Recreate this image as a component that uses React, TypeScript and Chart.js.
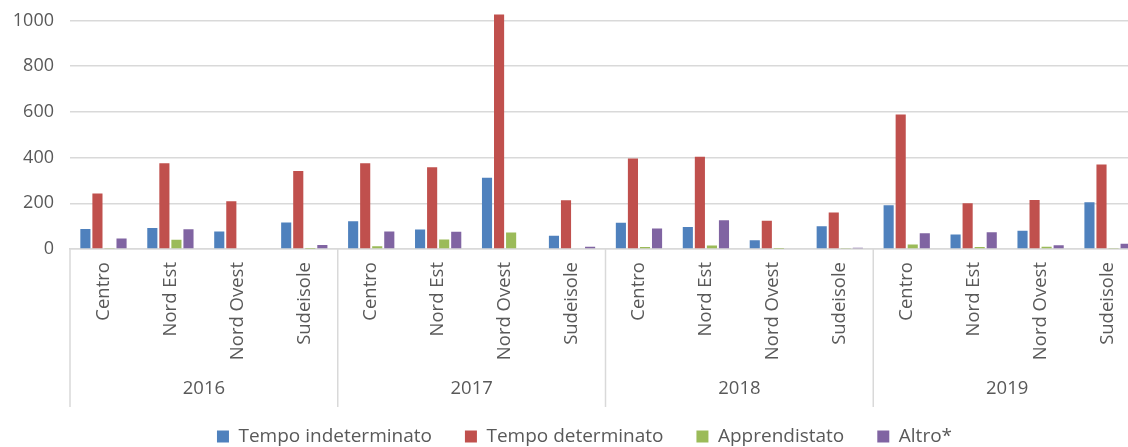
import React, { useEffect, useRef } from 'react';
import { Chart, registerables } from 'chart.js';

Chart.register(...registerables);

const years = ['2016', '2017', '2018', '2019'];
const regions = ['Centro', 'Nord Est', 'Nord Ovest', 'Sudeisole'];
const seriesNames = ['Tempo indeterminato', 'Tempo determinato', 'Apprendistato', 'Altro*'];
const seriesColors = ['#4F81BD', '#C0504D', '#9BBB59', '#8064A2'];

const indeterminato = [87, 92, 77, 116, 121, 85, 312, 58, 115, 96, 38, 100, 192, 63, 80, 205];
const determinato = [243, 375, 209, 341, 375, 358, 1026, 213, 396, 404, 124, 160, 589, 200, 214, 370];
const apprendistato = [2, 41, 0, 1, 12, 42, 72, 0, 9, 15, 1, 2, 20, 9, 10, 4];
const altro = [46, 86, 0, 18, 77, 76, 0, 10, 90, 126, 0, 6, 69, 73, 16, 23];

const yTicks = [0, 200, 400, 600, 800, 1000];

const labels = years.flatMap(() => regions);
const seriesValues = [indeterminato, determinato, apprendistato, altro];

const FONT = "'Open Sans', 'Liberation Sans', sans-serif";
const TEXT = '#595959';
const GRID = '#d9d9d9';
const X_AXIS_H = 145;
const SEP_H = 158;
const LEGEND_SHIFT = 14;

const yearPlugin = {
  id: 'yearGroups',
  afterLayout(chart: any) {
    const l = chart.legend;
    if (l) {
      l.left += LEGEND_SHIFT;
      l.right += LEGEND_SHIFT;
    }
  },
  afterDraw(chart: any) {
    const { ctx } = chart;
    const x = chart.scales.x;
    const n = regions.length;
    const cw = (x.right - x.left) / labels.length;
    ctx.save();
    ctx.strokeStyle = GRID;
    ctx.lineWidth = 1.5;
    for (let i = 0; i <= years.length; i++) {
      const xx = x.left + i * n * cw;
      ctx.beginPath();
      ctx.moveTo(xx, x.top);
      ctx.lineTo(xx, x.top + SEP_H);
      ctx.stroke();
    }
    ctx.fillStyle = TEXT;
    ctx.font = `18.5px ${FONT}`;
    ctx.textAlign = 'center';
    ctx.textBaseline = 'middle';
    years.forEach((yr, i) => {
      ctx.fillText(yr, x.left + (i + 0.5) * n * cw, x.top + 140);
    });
    ctx.restore();
  },
};

export default function App() {
  const ref = useRef<HTMLCanvasElement | null>(null);

  useEffect(() => {
    if (!ref.current) return;
    const chart = new Chart(ref.current, {
      type: 'bar',
      data: {
        labels,
        datasets: seriesNames.map((name, i) => ({
          label: name,
          data: seriesValues[i],
          backgroundColor: seriesColors[i],
          borderWidth: 0,
          categoryPercentage: 0.72,
          barPercentage: 0.84,
        })),
      },
      options: {
        responsive: false,
        animation: false,
        devicePixelRatio: 1,
        layout: { padding: { top: 3, right: 19, left: 0, bottom: 0 } },
        plugins: {
          legend: {
            position: 'bottom',
            labels: {
              font: { family: FONT, size: 19 },
              color: TEXT,
              boxWidth: 12,
              boxHeight: 12,
              padding: 33,
            },
          },
          tooltip: { enabled: false },
        },
        scales: {
          x: {
            grid: { display: false, drawTicks: false },
            border: { display: true, color: GRID, width: 1.5 },
            ticks: {
              autoSkip: false,
              maxRotation: 90,
              minRotation: 90,
              padding: 13,
              color: TEXT,
              font: { family: FONT, size: 18.5 },
            },
            afterFit: (s: any) => {
              s.height = X_AXIS_H;
            },
          },
          y: {
            min: 0,
            max: 1200,
            grid: { color: GRID, lineWidth: 1.5, drawTicks: false },
            border: { display: false },
            afterBuildTicks: (s: any) => {
              s.ticks = yTicks.map((v) => ({ value: v }));
            },
            ticks: {
              padding: 16,
              color: TEXT,
              font: { family: FONT, size: 18 },
              callback: (v: any) => String(v),
            },
            afterFit: (s: any) => {
              s.width = 70;
            },
          },
        },
      },
      plugins: [yearPlugin],
    });
    return () => chart.destroy();
  }, []);

  return (
    <div style={{ position: 'fixed', left: 0, top: 0, width: 1128, height: 447, overflow: 'hidden', background: '#fff' }}>
      <div style={{ position: 'absolute', left: 0, top: -52, width: 1160, height: 508 }}>
        <canvas ref={ref} width={1160} height={508} style={{ display: 'block' }} />
      </div>
    </div>
  );
}
